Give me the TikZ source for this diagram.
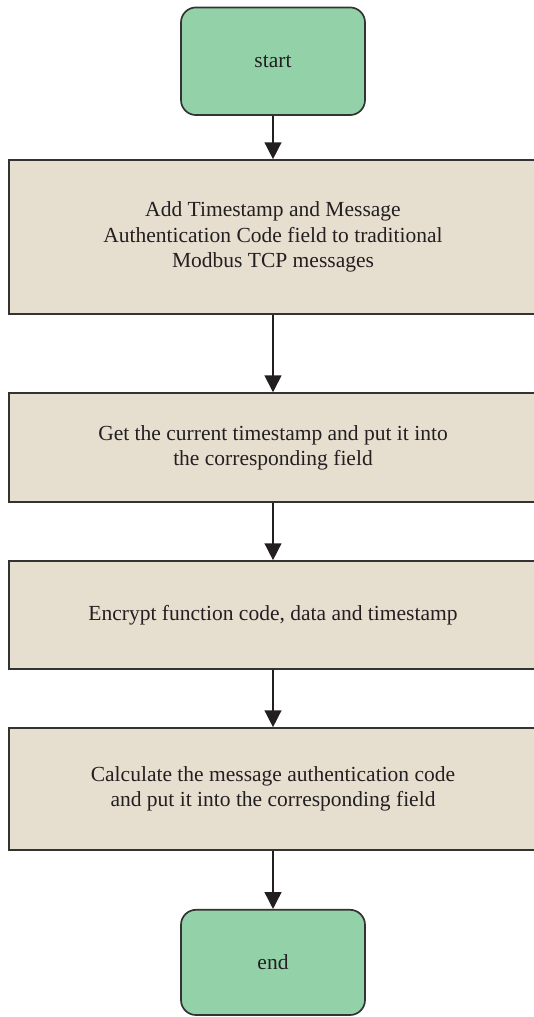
\documentclass[tikz,border=0pt]{standalone}
\usepackage{fontspec}
\setmainfont{Liberation Serif}
\usetikzlibrary{arrows.meta,positioning}
\definecolor{cterm}{HTML}{93D1A8}
\definecolor{cstep}{HTML}{E6DFD0}
\definecolor{cline}{HTML}{333333}
\definecolor{ctext}{HTML}{231F20}

\begin{document}
\begin{tikzpicture}[
  font=\fontsize{15.3}{18}\selectfont,
  term/.style={draw=cline, fill=cterm, rounded corners=0.375cm, line width=1.2pt,
               text=ctext, minimum width=4.6cm, minimum height=#1},
  stepbox/.style={draw=cline, fill=cstep, line width=1.2pt, text=ctext,
                  minimum width=13.7cm, minimum height=#1, anchor=west},
  label/.style={align=center, text=ctext},
  flow/.style={-{Triangle[width=0.42cm, length=0.42cm]}, line width=1.1pt, draw=ctext},
]
\useasboundingbox (0,0) rectangle (13.325,-25.425);

% ------------------------------------------------------------ terminals
\node[term=2.69cm] (start) at (6.825,-1.531) {start};
\node[term=2.63cm] (end) at (6.825,-24.06) {end};

% ------------------------------------------------------------ steps (run past the right edge)
\node[stepbox=3.85cm]  (addfield) at (0.2,-5.925) {};
\node[stepbox=2.725cm] (gettime)  at (0.2,-11.19) {};
\node[stepbox=2.7cm]   (encrypt)  at (0.2,-15.375) {};
\node[stepbox=3.05cm]  (calcmac)  at (0.2,-19.725) {};

\node[label] (addfieldtxt) at (6.825,-5.925) {%
  Add Timestamp and Message\\
  Authentication Code field to traditional\\
  Modbus TCP messages};
\node[label] (gettimetxt) at (6.825,-11.19) {%
  Get the current timestamp and put it into\\
  the corresponding field};
\node[label] (encrypttxt) at (6.825,-15.375) {%
  Encrypt function code, data and timestamp};
\node[label] (calcmactxt) at (6.825,-19.725) {%
  Calculate the message authentication code\\
  and put it into the corresponding field};

% ------------------------------------------------------------ flow
\draw[flow] (start) -- (start |- addfield.north);
\draw[flow] (start |- addfield.south) -- (start |- gettime.north);
\draw[flow] (start |- gettime.south) -- (start |- encrypt.north);
\draw[flow] (start |- encrypt.south) -- (start |- calcmac.north);
\draw[flow] (start |- calcmac.south) -- (end);

\end{tikzpicture}
\end{document}
